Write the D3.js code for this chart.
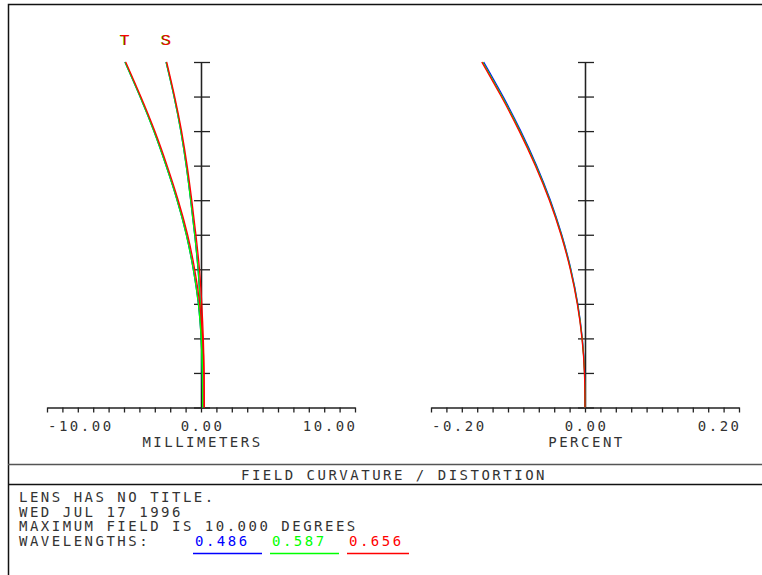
<!DOCTYPE html>
<html>
<head>
<meta charset="utf-8">
<script src="https://cdn.jsdelivr.net/npm/d3@7"></script>
<style>
  body { margin: 0; background: #fff; }
  svg { display: block; }
  .lbl { font-family: "DejaVu Sans Mono", monospace; font-size: 14px; letter-spacing: 2.5px; fill: #333; }
  .axis path, .axis line { stroke: #222; stroke-width: 1.3; }
  .curve { fill: none; stroke-width: 1.3; }
</style>
</head>
<body>
<svg width="762" height="575"></svg>
<script>
// relative field, 0 .. 10 degrees
var fieldDeg = [0, 1, 2, 3, 4, 5, 6, 7, 8, 9, 10];

// field curvature, millimeters (T = tangential, S = sagittal)
var tanBlue  = [0.11, 0.09, 0.01, -0.17, -0.50, -0.95, -1.55, -2.27, -3.06, -3.96, -4.94];
var tanGreen = [0.11, 0.09, 0.01, -0.17, -0.50, -0.95, -1.55, -2.27, -3.06, -3.96, -4.94];
var tanRed   = [0.21, 0.19, 0.11, -0.08, -0.41, -0.87, -1.48, -2.20, -3.00, -3.91, -4.89];
var sagBlue  = [0.11, 0.10, 0.05, -0.05, -0.19, -0.41, -0.67, -0.96, -1.31, -1.75, -2.27];
var sagGreen = [0.11, 0.10, 0.05, -0.05, -0.19, -0.41, -0.67, -0.96, -1.31, -1.75, -2.27];
var sagRed   = [0.21, 0.20, 0.15, 0.05, -0.10, -0.33, -0.60, -0.90, -1.26, -1.71, -2.23];

// distortion, percent
var distBlue  = [0, -0.0005, -0.0035, -0.0094, -0.0183, -0.0302, -0.0450, -0.0628, -0.0834, -0.1064, -0.1316];
var distGreen = [0, -0.0006, -0.0037, -0.0097, -0.0187, -0.0307, -0.0457, -0.0637, -0.0845, -0.1077, -0.1330];
var distRed   = [0, -0.0007, -0.0039, -0.0100, -0.0191, -0.0312, -0.0463, -0.0645, -0.0854, -0.1087, -0.1340];

var mmLabels  = ['-10.00', '0.00', '10.00'];
var pctLabels = ['-0.20', '0.00', '0.20'];
var wavelengths = ['0.486', '0.587', '0.656'];
var waveColors  = ['#0000ff', '#00ff00', '#ff0000'];
var infoLines = ['LENS HAS NO TITLE.', 'WED JUL 17 1996', 'MAXIMUM FIELD IS 10.000 DEGREES', 'WAVELENGTHS:'];
var title = 'FIELD CURVATURE / DISTORTION';

var svg = d3.select('svg');

// frame
svg.append('path')
  .attr('d', 'M8.5,580V4.5H770')
  .attr('fill', 'none').attr('stroke', '#111').attr('stroke-width', 1.5);
svg.append('line').attr('x1', 8).attr('x2', 762).attr('y1', 464.5).attr('y2', 464.5)
  .attr('stroke', '#555').attr('stroke-width', 1.5);
svg.append('line').attr('x1', 8).attr('x2', 762).attr('y1', 484.5).attr('y2', 484.5)
  .attr('stroke', '#111').attr('stroke-width', 1.5);

var y = d3.scaleLinear().domain([0, 10]).range([407.5, 62]);
var xMm = d3.scaleLinear().domain([-10, 10]).range([47, 355]);
var xPct = d3.scaleLinear().domain([-0.2, 0.2]).range([431, 739]);

function drawPanel(x, ticks, labels, name) {
  var g = svg.append('g');
  // horizontal axis with small ticks below
  g.append('g').attr('class', 'axis')
    .attr('transform', 'translate(0,' + y(0) + ')')
    .call(d3.axisBottom(x).tickValues(ticks).tickSize(5).tickSizeOuter(0).tickFormat(''));
  // vertical axis through zero, ticks on both sides
  g.append('g').attr('class', 'axis')
    .attr('transform', 'translate(' + x(0) + ',0)')
    .call(d3.axisLeft(y).ticks(10).tickSize(7).tickSizeOuter(0).tickFormat(''));
  g.append('g').attr('class', 'axis')
    .attr('transform', 'translate(' + x(0) + ',0)')
    .call(d3.axisRight(y).ticks(10).tickSize(9).tickSizeOuter(0).tickFormat(''));
  g.selectAll('.axis text').remove();

  var dom = x.domain();
  var anchors = ['start', 'middle', 'end'];
  g.selectAll('text.tick-label')
    .data(labels)
    .enter()
      .append('text')
      .attr('class', 'lbl')
      .attr('x', function(d, i) { return x([dom[0], 0, dom[1]][i]) + (i == 2 ? 2.5 : (i == 1 ? 1.5 : 1)); })
      .attr('y', 431)
      .attr('text-anchor', function(d, i) { return anchors[i]; })
      .text(function(d) { return d; });

  g.append('text').attr('class', 'lbl')
    .attr('x', x(0) + 1.5).attr('y', 447)
    .attr('text-anchor', 'middle')
    .text(name);
  return g;
}

var left = drawPanel(xMm, d3.range(-10, 10.5, 1), mmLabels, 'MILLIMETERS');
var right = drawPanel(xPct, d3.range(-20, 21, 2).map(function(v) { return v / 100; }), pctLabels, 'PERCENT');

function curve(x, vals) {
  return d3.line()
    .x(function(d) { return x(d); })
    .y(function(d, i) { return y(fieldDeg[i]); })
    .curve(d3.curveNatural)(vals);
}

var fcSeries = [
  {vals: tanBlue, color: waveColors[0]}, {vals: sagBlue, color: waveColors[0]},
  {vals: tanGreen, color: waveColors[1]}, {vals: sagGreen, color: waveColors[1]},
  {vals: tanRed, color: waveColors[2]}, {vals: sagRed, color: waveColors[2]}
];
left.selectAll('path.curve')
  .data(fcSeries)
  .enter()
    .append('path')
    .attr('class', 'curve')
    .attr('stroke', function(d) { return d.color; })
    .attr('d', function(d) { return curve(xMm, d.vals); });

var distSeries = [
  {vals: distBlue, color: waveColors[0]},
  {vals: distGreen, color: waveColors[1]},
  {vals: distRed, color: waveColors[2]}
];
right.selectAll('path.curve')
  .data(distSeries)
  .enter()
    .append('path')
    .attr('class', 'curve')
    .attr('stroke', function(d) { return d.color; })
    .attr('d', function(d) { return curve(xPct, d.vals); });

// T and S markers above the curve ends
var markers = [{t: 'T', v: tanGreen[10]}, {t: 'S', v: sagGreen[10]}];
[['#00cc00', -0.8], ['#ff0000', 0]].forEach(function(c) {
  left.selectAll(null)
    .data(markers)
    .enter()
      .append('text')
      .attr('x', function(d) { return xMm(d.v) + c[1]; })
      .attr('y', 45)
      .attr('text-anchor', 'middle')
      .attr('font-family', 'Liberation Sans, Arial, sans-serif')
      .attr('font-size', 15)
      .attr('fill', c[0])
      .text(function(d) { return d.t; });
});

// title and info block
svg.append('text').attr('class', 'lbl')
  .attr('x', 394).attr('y', 480)
  .attr('text-anchor', 'middle')
  .text(title);

svg.selectAll('text.info')
  .data(infoLines)
  .enter()
    .append('text')
    .attr('class', 'lbl info')
    .attr('x', 19)
    .attr('y', function(d, i) { return 502 + i * 14.6; })
    .text(function(d) { return d; });

var wl = svg.selectAll('g.wl')
  .data(wavelengths)
  .enter()
    .append('g')
    .attr('class', 'wl')
    .attr('transform', function(d, i) { return 'translate(' + (193 + i * 77) + ',0)'; });
wl.append('text')
  .attr('class', 'lbl')
  .attr('x', 2).attr('y', 546)
  .style('fill', function(d, i) { return waveColors[i]; })
  .text(function(d) { return d; });
wl.append('line')
  .attr('x1', 0).attr('x2', function(d, i) { return i == 2 ? 62 : 69; })
  .attr('y1', 553.5).attr('y2', 553.5)
  .attr('stroke', function(d, i) { return waveColors[i]; })
  .attr('stroke-width', 1.3);
</script>
</body>
</html>
